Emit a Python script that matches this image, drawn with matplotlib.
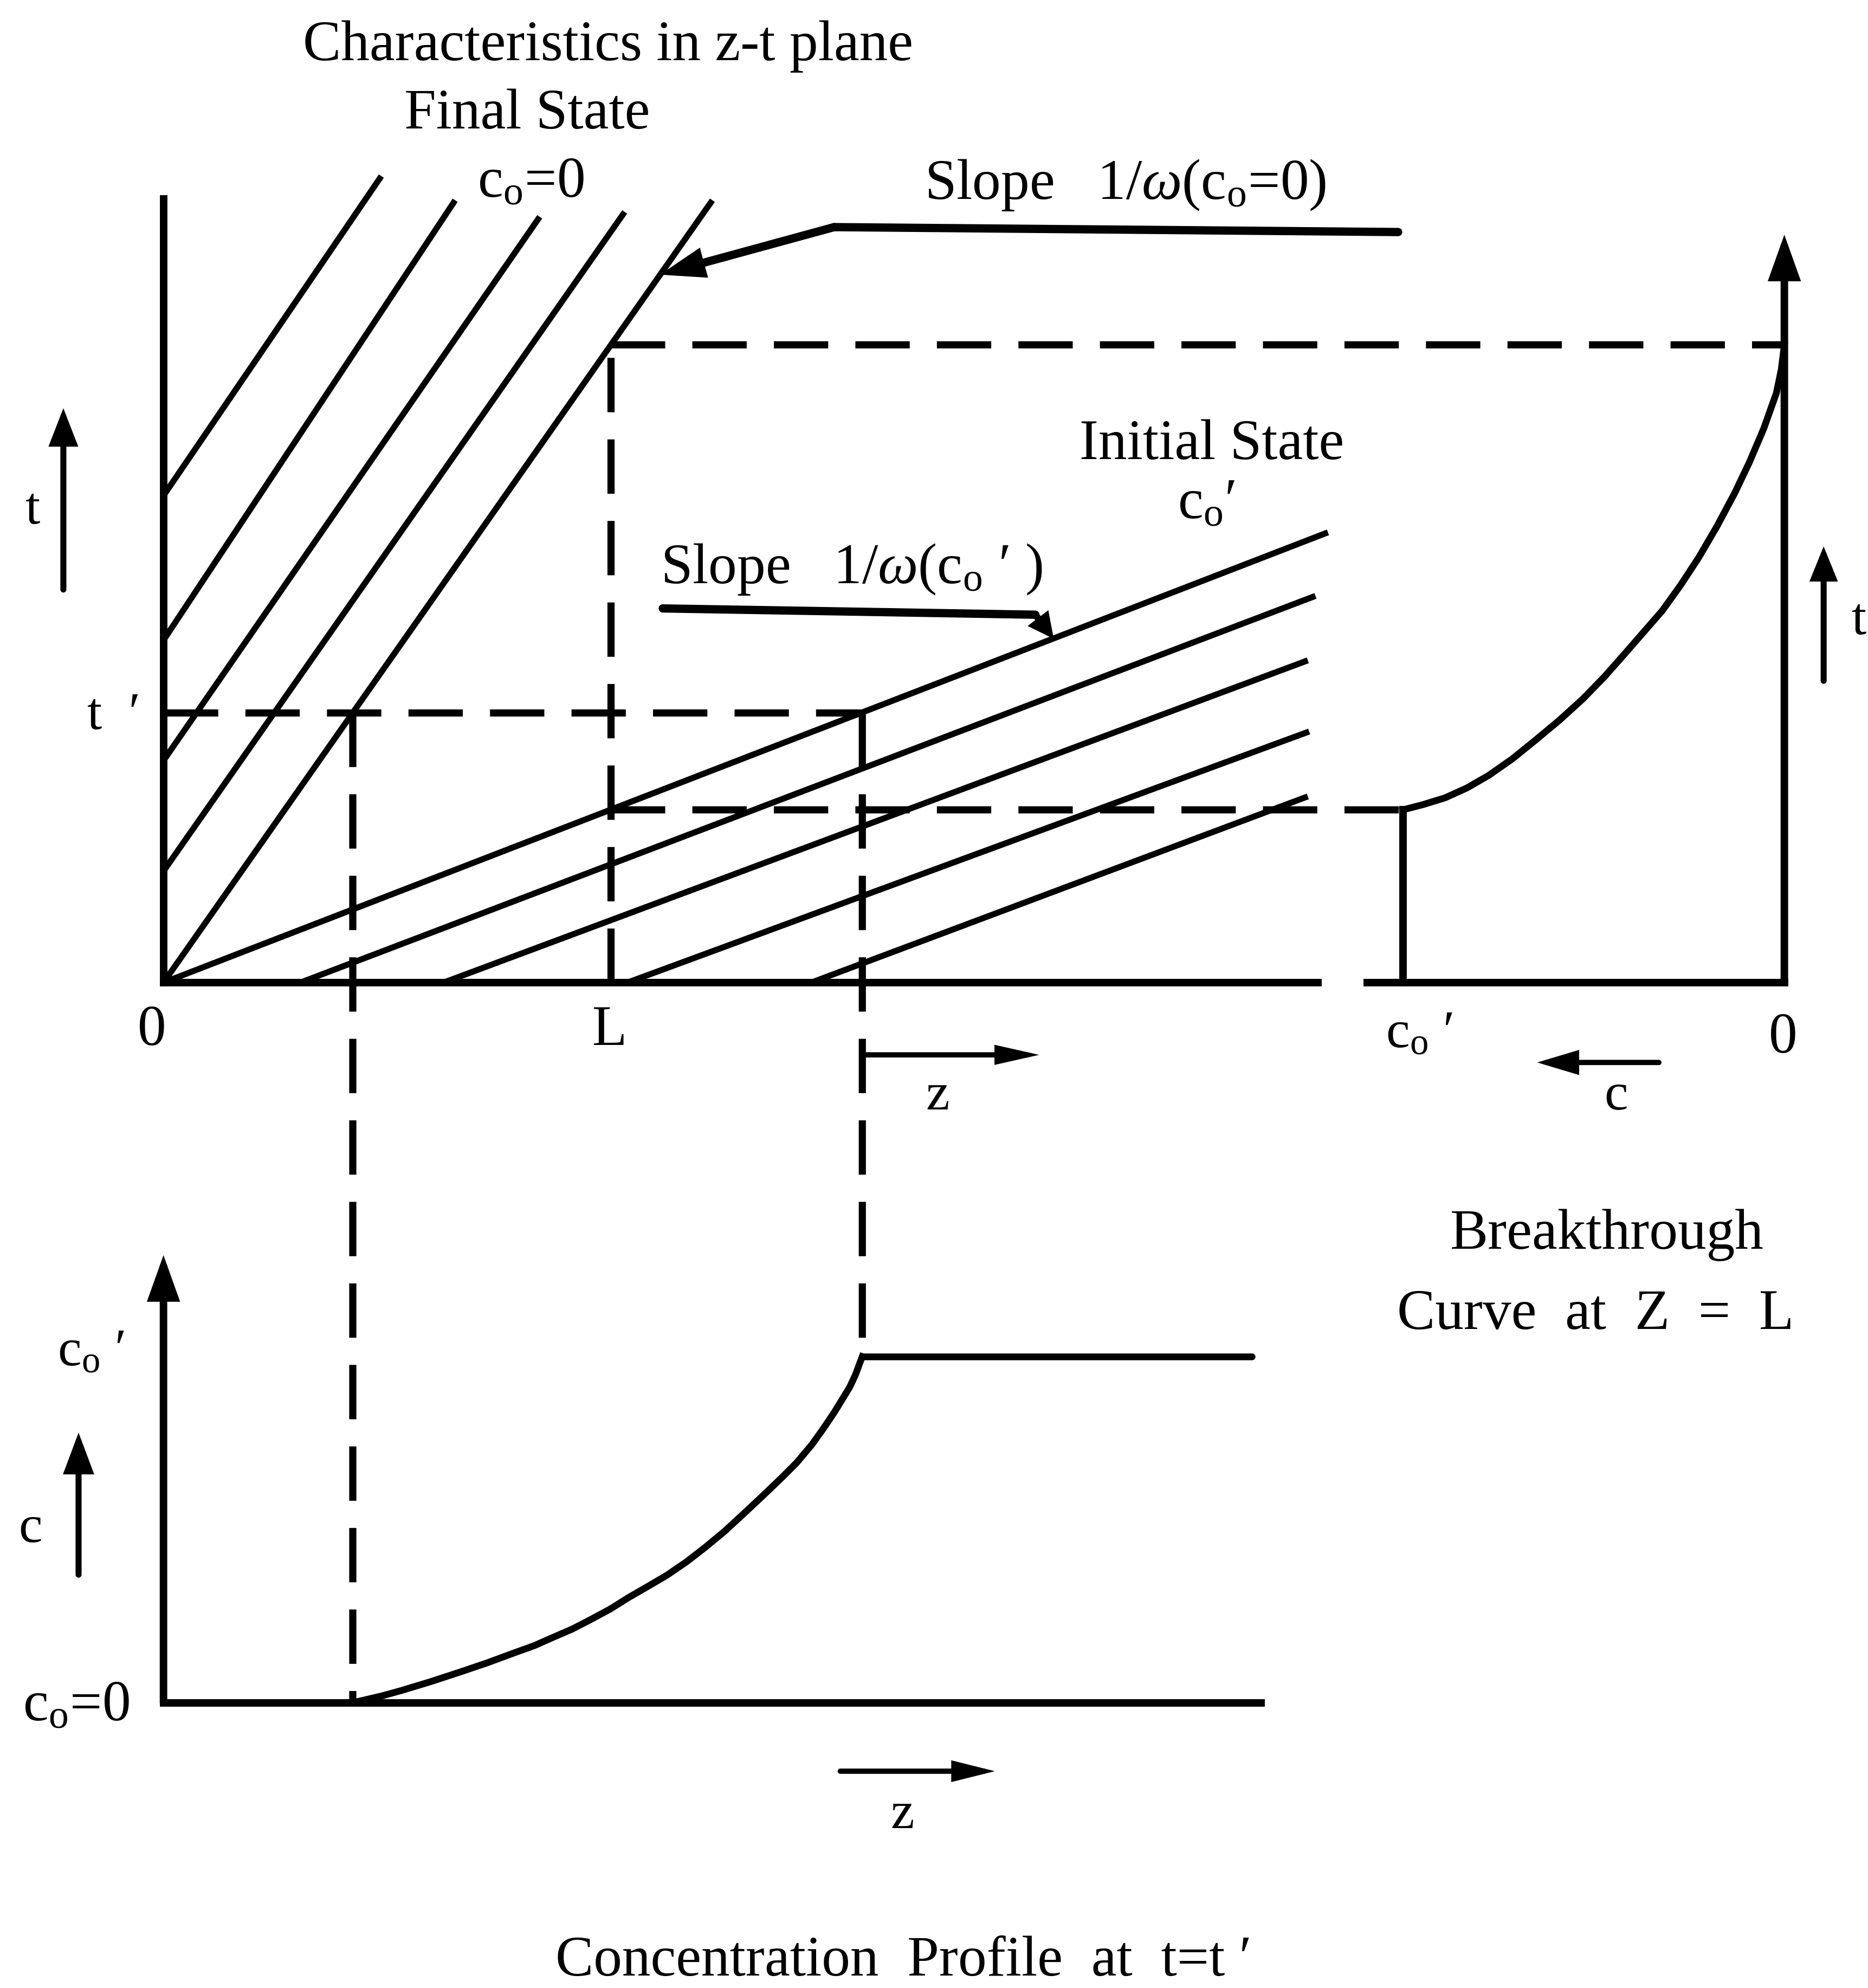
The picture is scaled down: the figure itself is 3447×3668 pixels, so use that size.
import matplotlib
matplotlib.use("Agg")
import matplotlib.pyplot as plt
from matplotlib.patches import ConnectionPatch, FancyArrowPatch

plt.rcParams["font.family"] = ["Liberation Serif", "DejaVu Serif"]
plt.rcParams["mathtext.fontset"] = "custom"
plt.rcParams["mathtext.rm"] = "Liberation Serif"
plt.rcParams["mathtext.it"] = "Liberation Serif:italic"
plt.rcParams["mathtext.bf"] = "Liberation Serif:bold"

# ---- data (column length L = 1, feed concentration c_o' = 1) ----
L = 1.0
slope_final = 1.425     # 1/omega(c_o = 0)
slope_init = 0.386      # 1/omega(c_o')
t_prime = 0.603

# final state characteristics: start on z = 0, end near the top
final_t0 = [0.0, 0.249, 0.496, 0.765, 1.088]
final_z_end = [1.227, 1.031, 0.841, 0.652, 0.487]
final_t_end = [1.748, 1.722, 1.711, 1.748, 1.802]

# initial state characteristics: start on t = 0, end on the right
init_z0 = [0.0, 0.306, 0.626, 1.037, 1.448]
init_z_end = [2.603, 2.575, 2.558, 2.561, 2.558]
init_t_end = [1.006, 0.864, 0.720, 0.561, 0.416]

# breakthrough curve at z = L
bt_c = [1.0, 0.946, 0.889, 0.832, 0.775, 0.713, 0.652, 0.590, 0.528, 0.471,
        0.414, 0.367, 0.320, 0.272, 0.225, 0.177, 0.130, 0.092, 0.054, 0.021,
        0.008, 0.0]
bt_t = [0.386, 0.398, 0.413, 0.435, 0.463, 0.500, 0.542, 0.586, 0.634, 0.684,
        0.739, 0.785, 0.831, 0.888, 0.949, 1.019, 1.094, 1.162, 1.238, 1.317,
        1.370, 1.425]

# concentration profile at t = t'
cp_z = [0.423, 0.489, 0.531, 0.595, 0.659, 0.723, 0.786, 0.829, 0.871, 0.914,
        0.956, 0.999, 1.041, 1.084, 1.126, 1.169, 1.211, 1.254, 1.296, 1.339,
        1.381, 1.415, 1.449, 1.475, 1.500, 1.517, 1.534, 1.547, 1.555, 1.562]
cp_c = [0.0, 0.020, 0.035, 0.060, 0.087, 0.115, 0.145, 0.165, 0.189, 0.213,
        0.241, 0.271, 0.305, 0.337, 0.369, 0.407, 0.449, 0.495, 0.545, 0.597,
        0.649, 0.693, 0.745, 0.792, 0.840, 0.876, 0.912, 0.948, 0.976, 1.0]
cp_z_end = 2.433

# axis extents
zt_z_max, zt_t_max = 2.581, 1.751
bt_c_max, bt_t_max = 1.093, 1.671
cp_z_max, cp_c_max = 2.453, 1.293

# ---- layout (drawing grid units) ----
W, H = 1474, 1568
PT = 3447 / W * 72 / 100          # grid unit -> points
Z_PX, T_PX = 353, 353             # z and t scale
C_PX_RIGHT, C_PX_LOW = 301, 273   # c scale, right and lower panel

fig = plt.figure(figsize=(34.47, 36.68), dpi=100)
fig.patch.set_facecolor("white")

bg = fig.add_axes([0, 0, 1, 1])
bg.set_xlim(0, W)
bg.set_ylim(H, 0)
bg.axis("off")


def add_panel(x0, x1, y_top, y_bot, xlim, ylim):
    ax = fig.add_axes([x0 / W, 1 - y_bot / H, (x1 - x0) / W, (y_bot - y_top) / H])
    ax.set_xlim(*xlim)
    ax.set_ylim(*ylim)
    ax.axis("off")
    return ax


zt_x0, zt_y0 = 129, 775
ax_zt = add_panel(zt_x0, zt_x0 + 2.6 * Z_PX, zt_y0 - 1.8 * T_PX, zt_y0, (0, 2.6), (0, 1.8))
bt_x0 = 1408
ax_bt = add_panel(bt_x0 - 1.1 * C_PX_RIGHT, bt_x0, zt_y0 - 1.8 * T_PX, zt_y0, (1.1, 0), (0, 1.8))
cp_y0 = 1343
ax_cp = add_panel(zt_x0, zt_x0 + 2.6 * Z_PX, cp_y0 - 1.3 * C_PX_LOW, cp_y0, (0, 2.6), (0, 1.3))

AX_LW = 10
LN_LW = 8
DASH_LW = 9.5
DASH = (0, (7.6, 3.8))
solid = dict(color="k", lw=LN_LW, clip_on=False, solid_capstyle="butt")
axis_kw = dict(color="k", lw=AX_LW, clip_on=False, solid_capstyle="projecting")
dash_kw = dict(color="k", lw=DASH_LW, linestyle=DASH, clip_on=False, dash_capstyle="butt")
curve_kw = dict(color="k", lw=LN_LW + 1, clip_on=False, solid_joinstyle="round")


def arrow(ax, p0, p1, hl, hw, lw=LN_LW):
    ax.add_patch(FancyArrowPatch(p0, p1, arrowstyle=f"-|>,head_length={hl},head_width={hw}",
                                 mutation_scale=1, lw=lw, color="k", shrinkA=0, shrinkB=0,
                                 clip_on=False, joinstyle="miter"))


def connect(ax_a, xy_a, ax_b, xy_b):
    fig.add_artist(ConnectionPatch(xy_a, xy_b, coordsA=ax_a.transData, coordsB=ax_b.transData,
                                   color="k", lw=DASH_LW, linestyle=DASH, capstyle="butt"))


# ---- characteristics in the z-t plane ----
ax_zt.plot([0, 0], [0, zt_t_max], **axis_kw)
ax_zt.plot([0, zt_z_max], [0, 0], **axis_kw)
for t0, ze, te in zip(final_t0, final_z_end, final_t_end):
    ax_zt.plot([0, ze], [t0, te], **solid)
for z0, ze, te in zip(init_z0, init_z_end, init_t_end):
    ax_zt.plot([z0, ze], [0, te], **solid)

z_front = t_prime / slope_final
z_tail = t_prime / slope_init
t_L_final = slope_final * L
t_L_init = slope_init * L

ax_zt.plot([0, z_tail], [t_prime, t_prime], **dash_kw)
ax_zt.plot([L, L], [0, t_L_final], **dash_kw)

# slope leaders
ax_zt.plot([2.76, 1.499], [1.677, 1.688], color="k", lw=11, clip_on=False, solid_capstyle="round")
arrow(ax_zt, (1.499, 1.688), (1.11, slope_final * 1.11), 38, 13, lw=11)
ax_zt.plot([1.116, 1.949], [0.836, 0.822], color="k", lw=11, clip_on=False, solid_capstyle="round")
arrow(ax_zt, (1.949, 0.822), (1.99, slope_init * 1.99), 20, 10, lw=9)

# ---- breakthrough curve at z = L ----
arrow(ax_bt, (0, 0), (0, bt_t_max), 42, 15, lw=AX_LW)
ax_bt.plot([0, bt_c_max], [0, 0], **axis_kw)
ax_bt.plot([1, 1], [0, t_L_init], **axis_kw)
ax_bt.plot(bt_c, bt_t, **curve_kw)

# ---- concentration profile at t = t' ----
arrow(ax_cp, (0, 0), (0, cp_c_max), 42, 15, lw=AX_LW)
ax_cp.plot([0, cp_z_max], [0, 0], **axis_kw)
ax_cp.plot(cp_z, cp_c, **curve_kw)
ax_cp.plot([z_tail, cp_z_end], [1, 1], color="k", lw=LN_LW + 1, clip_on=False,
           solid_capstyle="round")

# projections between panels
connect(ax_zt, (L, t_L_final), ax_bt, (0, t_L_final))
connect(ax_zt, (L, t_L_init), ax_bt, (1, t_L_init))
connect(ax_zt, (z_front, t_prime), ax_cp, (z_front, 0))
connect(ax_zt, (z_tail, t_prime), ax_cp, (z_tail, 1))

# ---- direction arrows ----
arrow(bg, (50, 465), (50, 322), 36, 14, lw=8)
arrow(bg, (1439, 537), (1439, 431), 32, 13, lw=8)
arrow(bg, (62, 1242), (62, 1130), 40, 15, lw=8)
arrow(bg, (683, 832), (820, 832), 40, 9, lw=7)
arrow(bg, (1309, 838), (1213, 838), 40, 12, lw=7)
arrow(bg, (663, 1397), (785, 1397), 40, 10, lw=7)


# ---- text ----
def txt(x, y, s, size=45):
    bg.text(x, y, s, fontsize=size * PT, ha="center", va="baseline", color="k")


CO = r"$\mathregular{c_o}$"
txt(480, 47.5, "Characteristics in z-t plane")
txt(416, 101.5, "Final State")
txt(419, 155.5, CO + "=0")
txt(888, 157, "Slope   1/$\\omega$(" + CO + "=0)")
txt(956, 362, "Initial State")
txt(952, 409, CO + "′")
txt(672, 460, "Slope   1/$\\omega$(" + CO + " ′ )")
txt(26, 413, "t", 42)
txt(90, 575, "t  ′", 42)
txt(120, 824, "0")
txt(481, 824, "L")
txt(740, 875, "z", 42)
txt(1120, 826, CO + " ′", 42)
txt(1407, 830, "0")
txt(1275, 875, "c", 42)
txt(1467, 500, "t", 42)
txt(1268, 985, "Breakthrough")
txt(1259, 1048, "Curve  at  Z  =  L")
txt(72, 1077, CO + " ′", 42)
txt(24, 1216, "c", 42)
txt(60, 1357, CO + "=0")
txt(712, 1442, "z", 42)
txt(713, 1558, "Concentration  Profile  at  t=t ′")

fig.savefig("out.png", dpi=100)
